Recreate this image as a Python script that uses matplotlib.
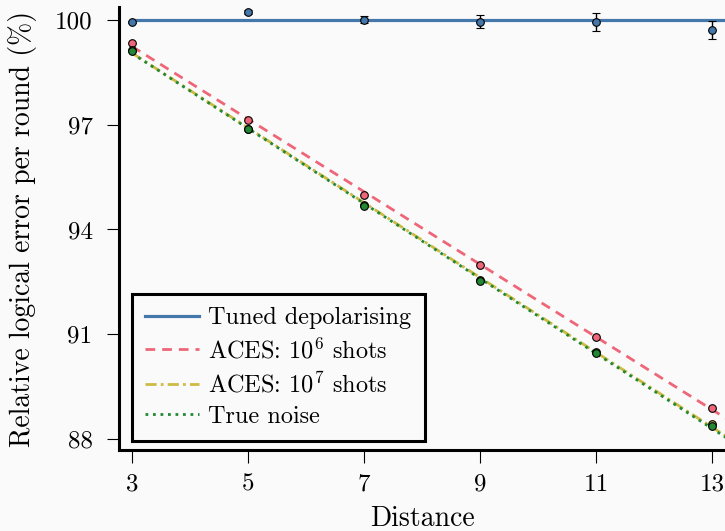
import numpy as np
import matplotlib
matplotlib.use("Agg")
import matplotlib.pyplot as plt

plt.rcParams['font.family'] = ['cmr10', 'DejaVu Serif']
plt.rcParams['mathtext.fontset'] = 'cm'
plt.rcParams['axes.unicode_minus'] = False
plt.rcParams['axes.formatter.use_mathtext'] = True

distances = [3, 5, 7, 9, 11, 13]
xticks = [3, 5, 7, 9, 11, 13]
yticks = [88, 91, 94, 97, 100]

tuned_vals = [99.95, 100.22, 100.0, 99.95, 99.94, 99.71]
tuned_err = [0.03, 0.05, 0.1, 0.19, 0.25, 0.25]
aces6_vals = [99.33, 97.13, 94.99, 92.98, 90.92, 88.90]
aces7_vals = [99.15, 96.88, 94.70, 92.55, 90.48, 88.42]
true_vals = [99.12, 96.88, 94.68, 92.53, 90.45, 88.37]

labels = ["Tuned depolarising", r"ACES: $10^6$ shots", r"ACES: $10^7$ shots", "True noise"]
colors = ["#4477AA", "#EE6677", "#CCBB44", "#228833"]
bg = "#fafafa"

fig = plt.figure(figsize=(7.25, 5.31), dpi=100, facecolor=bg)
ax = fig.add_axes([119/725, 81/531, 1 - 119/725, (450-7)/531])
ax.set_facecolor(bg)

d = np.array(distances, dtype=float)
xline = np.array([3.0, 13.6])

# fitted lines
ax.plot(xline, [100, 100], color=colors[0], lw=2.3, ls='-', label=labels[0], zorder=2)
for vals, c, ls, lab in [(aces6_vals, colors[1], (0, (3.5, 2.5)), labels[1]),
                         (aces7_vals, colors[2], (0, (4, 1.5, 1, 1.5)), labels[2]),
                         (true_vals, colors[3], (0, (1, 1.7)), labels[3])]:
    p = np.polyfit(d, vals, 1)
    ax.plot(xline, np.polyval(p, xline), color=c, lw=2.0, ls=ls, label=lab, zorder=2)

# data points
ax.errorbar(d, tuned_vals, yerr=tuned_err, fmt='o', ms=5.5, mfc=colors[0], mec='black', mew=0.8,
            ecolor='black', elinewidth=1.0, capsize=3, capthick=1.0, zorder=4)
for vals, c in [(aces6_vals, colors[1]), (aces7_vals, colors[2]), (true_vals, colors[3])]:
    ax.plot(d, vals, 'o', ms=5.5, mfc=c, mec='black', mew=0.8, zorder=4)

ax.set_xlim(2.776, 13.224)
ax.set_ylim(87.685, 100.37)
ax.set_xticks(xticks)
ax.set_yticks(yticks)
ax.set_xticklabels([str(t) for t in xticks])
ax.set_yticklabels([str(t) for t in yticks])

for s in ['top', 'right']:
    ax.spines[s].set_visible(False)
for s in ['left', 'bottom']:
    ax.spines[s].set_linewidth(2.2)
ax.tick_params(axis='both', direction='out', length=9, width=0.8, labelsize=18)
ax.tick_params(axis='y', pad=10)
ax.tick_params(axis='x', pad=8)

ax.set_xlabel("Distance", fontsize=20, labelpad=7)
ax.set_ylabel("Relative logical error per round (%)", fontsize=20, labelpad=13)

leg = ax.legend(loc='lower left', bbox_to_anchor=(0.021, 0.02), borderaxespad=0,
                fontsize=17.5, handlelength=2.2, handletextpad=0.4, labelspacing=0.35,
                fancybox=False, framealpha=1, edgecolor='black', facecolor=bg,
                borderpad=0.55)
leg.get_frame().set_linewidth(2.2)

fig.savefig("out.png", dpi=100, facecolor=bg)
